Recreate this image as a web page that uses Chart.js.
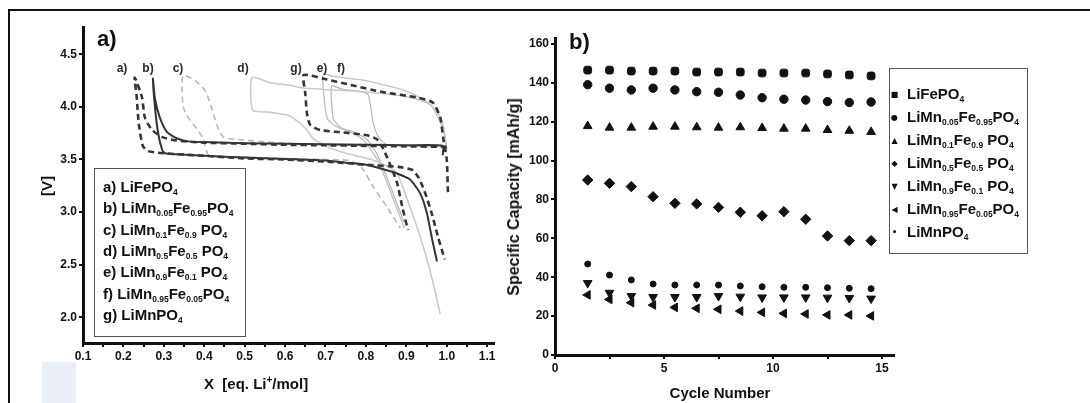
<!DOCTYPE html>
<html>
<head>
<meta charset="utf-8">
<script src="https://cdn.jsdelivr.net/npm/chart.js@4.4.0/dist/chart.umd.min.js"></script>
<style>
  html, body { margin: 0; padding: 0; background: #fff; width: 1090px; height: 403px; overflow: hidden; }
  body { position: relative; font-family: "Liberation Sans Narrow", "Liberation Sans", Arial, sans-serif; color: #111; }
  .frame { position: absolute; left: 8px; top: 9px; width: 1100px; height: 420px; border: 2px solid #111; }
  .patch { position: absolute; left: 42px; top: 362px; width: 34px; height: 41px; background: #e9eef7; }
  canvas { position: absolute; top: 0; }
  #chartA { left: 0; }
  #chartB { left: 495px; }
  .txt { position: absolute; white-space: nowrap; font-weight: bold; line-height: 1; }
  .rot { transform: translate(-50%, -50%) rotate(-90deg); }
  .ctr { transform: translate(-50%, -50%); }
  .legend { position: absolute; border: 1.5px solid #555; background: transparent; }
  .row { position: absolute; white-space: nowrap; font-weight: bold; font-size: 15px; line-height: 1; transform: translateY(-50%); }
  .row sub { font-size: 8.5px; vertical-align: -3px; line-height: 0; }
  .mk { display: inline-block; width: 9px; text-align: center; font-size: 8px; font-family: "DejaVu Sans", sans-serif; margin-right: 8px; vertical-align: 2px; }
</style>
</head>
<body>
<div class="frame"></div>
<div class="patch"></div>
<canvas id="chartA" width="545" height="403"></canvas>
<canvas id="chartB" width="595" height="403"></canvas>

<div class="txt" style="left:97px; top:28px; font-size:22px;">a)</div>
<div class="txt" style="left:569px; top:31px; font-size:22px;">b)</div>

<div class="txt rot" style="left:46px; top:186px; font-size:15px;">[V]</div>
<div class="txt" style="left:204px; top:376px; font-size:15px;">X&nbsp; [eq. Li<sup style="font-size:10px; vertical-align:6px; line-height:0;">+</sup>/mol]</div>
<div class="txt rot" style="left:514px; top:197px; font-size:16px;">Specific Capacity [mAh/g]</div>
<div class="txt ctr" style="left:720px; top:392px; font-size:15px;">Cycle Number</div>

<div id="curveLabels"></div>
<div class="legend" id="legendA" style="left:94px; top:168px; width:150px; height:167px;"></div>
<div class="legend" id="legendB" style="left:889px; top:68px; width:137px; height:184px;"></div>

<script>
// ---- panel a: charge / discharge curves, [x, V] ----
const curveA = [[1.0,3.62],[0.9,3.625],[0.8,3.63],[0.7,3.635],[0.6,3.64],[0.5,3.65],[0.4,3.66],[0.333,3.68],[0.298,3.71],[0.271,3.78],[0.253,3.90],[0.246,4.09],[0.228,4.28],[0.233,4.09],[0.238,3.84],[0.248,3.63],[0.261,3.58],[0.298,3.56],[0.4,3.535],[0.5,3.51],[0.6,3.50],[0.7,3.48],[0.8,3.45],[0.88,3.43],[0.915,3.40],[0.93,3.33],[0.945,3.20],[0.962,3.00],[0.978,2.77],[0.995,2.55]];
const curveB = [[0.99,3.54],[0.99,3.63],[0.9,3.635],[0.8,3.64],[0.7,3.645],[0.6,3.65],[0.5,3.655],[0.414,3.665],[0.365,3.67],[0.333,3.70],[0.308,3.76],[0.29,3.90],[0.278,4.08],[0.273,4.27],[0.278,4.00],[0.286,3.75],[0.296,3.59],[0.303,3.56],[0.33,3.55],[0.4,3.535],[0.5,3.52],[0.6,3.505],[0.7,3.49],[0.75,3.47],[0.8,3.45],[0.85,3.40],[0.875,3.37],[0.909,3.31],[0.934,3.18],[0.951,2.99],[0.964,2.74],[0.976,2.53]];
const curveC = [[0.82,3.63],[0.7,3.64],[0.6,3.655],[0.483,3.69],[0.448,3.71],[0.433,3.81],[0.42,3.97],[0.403,4.15],[0.378,4.25],[0.348,4.30],[0.345,4.16],[0.348,4.00],[0.36,3.90],[0.378,3.81],[0.396,3.71],[0.403,3.62],[0.411,3.54],[0.5,3.52],[0.6,3.51],[0.7,3.50],[0.76,3.49],[0.79,3.42],[0.818,3.24],[0.852,3.05],[0.885,2.85]];
const curveD = [[1.0,3.58],[0.995,3.75],[0.985,3.90],[0.96,4.02],[0.92,4.08],[0.86,4.12],[0.78,4.15],[0.711,4.16],[0.687,4.17],[0.645,4.18],[0.605,4.21],[0.563,4.23],[0.518,4.28],[0.52,3.97],[0.563,3.95],[0.607,3.92],[0.632,3.86],[0.654,3.78],[0.669,3.70],[0.686,3.66],[0.711,3.61],[0.76,3.55],[0.82,3.49],[0.86,3.42],[0.877,3.37],[0.909,3.05],[0.942,2.67],[0.966,2.33],[0.984,2.03]];
const curveE = [[1.0,3.60],[0.99,3.80],[0.96,4.02],[0.9,4.15],[0.8,4.25],[0.72,4.29],[0.694,4.31],[0.699,4.00],[0.706,3.88],[0.729,3.81],[0.761,3.76],[0.793,3.69],[0.818,3.56],[0.835,3.45],[0.86,3.20],[0.88,3.00],[0.895,2.85]];
const curveF = [[0.98,3.62],[0.9,3.63],[0.852,3.64],[0.83,3.72],[0.818,3.85],[0.812,4.00],[0.805,4.12],[0.78,4.15],[0.74,4.17],[0.715,4.20],[0.716,4.00],[0.72,3.88],[0.74,3.80],[0.77,3.76],[0.80,3.70],[0.82,3.60],[0.84,3.45],[0.86,3.25],[0.88,3.05],[0.895,2.90]];
const curveG = [[1.003,3.19],[1.0,3.50],[0.991,3.71],[0.984,3.90],[0.966,4.04],[0.927,4.09],[0.843,4.14],[0.761,4.21],[0.694,4.27],[0.662,4.30],[0.645,4.30],[0.65,4.13],[0.654,3.94],[0.662,3.83],[0.687,3.78],[0.736,3.76],[0.803,3.73],[0.828,3.69],[0.843,3.60],[0.858,3.47],[0.877,3.28],[0.890,3.05],[0.904,2.83]];

const xTicksA = [0.1,0.15,0.2,0.25,0.3,0.35,0.4,0.45,0.5,0.55,0.6,0.65,0.7,0.75,0.8,0.85,0.9,0.95,1.0,1.05,1.1];
const yTicksA = [2.0,2.5,3.0,3.5,4.0,4.5];

// curve tags drawn above the loops
const curveTags = ['a)','b)','c)','d)','g)','e)','f)'];
const curveTagX = [122,148,178,243,296,322,341];

// ---- panel b: specific capacity per cycle ----
const cycles = [1.5,2.5,3.5,4.5,5.5,6.5,7.5,8.5,9.5,10.5,11.5,12.5,13.5,14.5];
const capLiFePO4 = [146.5,146.5,146,146,146,145.5,145.5,145.5,145,145,145,144.5,144,143.5];
const capMn005 = [139,137.2,136.3,137.2,136.3,135.4,135.1,133.7,132.3,131.5,131.1,130.3,129.8,130.1];
const capMn01 = [117.7,116.9,116.9,117.4,117.4,117.1,116.9,117.1,116.7,116.4,116.4,115.7,115.3,114.7];
const capMn05 = [90,88.3,86.6,81.4,78,77.7,75.9,73.4,71.6,73.7,69.8,61.2,58.8,58.8];
const capMn09 = [37,32,30.3,29.8,29.8,29.8,30.3,30,29.6,29.6,29.6,29.5,29.3,29];
const capMn095 = [30.9,28.6,26.9,25.7,24.5,24,23.5,22.6,21.9,21.4,21.1,20.6,20.6,20.1];
const capLiMnPO4 = [46.8,41.1,38.6,36.5,36,36,36,35.5,35.1,34.8,34.8,34.6,34.3,34.1];

const xTicksB = [0,2.5,5,7.5,10,12.5,15];
const yTicksB = [0,20,40,60,80,100,120,140,160];

const seriesNames = [
  'LiFePO<sub>4</sub>',
  'LiMn<sub>0.05</sub>Fe<sub>0.95</sub>PO<sub>4</sub>',
  'LiMn<sub>0.1</sub>Fe<sub>0.9</sub> PO<sub>4</sub>',
  'LiMn<sub>0.5</sub>Fe<sub>0.5</sub> PO<sub>4</sub>',
  'LiMn<sub>0.9</sub>Fe<sub>0.1</sub> PO<sub>4</sub>',
  'LiMn<sub>0.95</sub>Fe<sub>0.05</sub>PO<sub>4</sub>',
  'LiMnPO<sub>4</sub>'
];
const legendKeys = ['a)','b)','c)','d)','e)','f)','g)'];
const legendGlyphs = ['\u25A0','\u25CF','\u25B2','\u25C6','\u25BC','\u25C0','\u2022'];

const FONT = '"Liberation Sans Narrow", "Liberation Sans", Arial, sans-serif';
const INK = '#111';

document.addEventListener('DOMContentLoaded', function() {
    buildLabels();
    drawCurves();
    drawCapacity();
});

function buildLabels() {
    const tags = document.getElementById('curveLabels');
    curveTags.forEach((t, i) => {
        const d = document.createElement('div');
        d.className = 'txt ctr';
        d.style.cssText = `left:${curveTagX[i]}px; top:68px; font-size:12px; color:#2a2a2a;`;
        d.textContent = t;
        tags.appendChild(d);
    });

    const la = document.getElementById('legendA');
    seriesNames.forEach((name, i) => {
        const r = document.createElement('div');
        r.className = 'row';
        r.style.left = '8px';
        r.style.top = (17 + i * 21.3) + 'px';
        r.innerHTML = legendKeys[i] + '&nbsp;' + name;
        la.appendChild(r);
    });

    const lb = document.getElementById('legendB');
    seriesNames.forEach((name, i) => {
        const r = document.createElement('div');
        r.className = 'row';
        r.style.left = '0px';
        r.style.top = (24 + i * 23) + 'px';
        r.innerHTML = `<span class="mk">${legendGlyphs[i]}</span>` + name;
        lb.appendChild(r);
    });
}

function axisStyle(extra) {
    return Object.assign({
        type: 'linear',
        grid: { drawOnChartArea: false, drawTicks: true, tickLength: 4, color: INK, lineWidth: 2 },
        border: { display: true, color: INK, width: 3 },
        ticks: { font: { family: FONT, size: 12, weight: 'bold' }, color: INK, padding: 2, maxRotation: 0, autoSkip: false }
    }, extra);
}

function drawCurves() {
    const dark = '#353535';
    const sets = [
        { data: curveA, borderColor: dark, borderWidth: 2.6, borderDash: [6, 4], order: 0 },
        { data: curveB, borderColor: dark, borderWidth: 2, order: 0 },
        { data: curveC, borderColor: '#b9b9b9', borderWidth: 1.6, borderDash: [6, 4], order: 1 },
        { data: curveD, borderColor: '#c9c9c9', borderWidth: 1.5, order: 1 },
        { data: curveE, borderColor: '#c2c2c2', borderWidth: 1.4, order: 1 },
        { data: curveF, borderColor: '#b5b5b5', borderWidth: 1.2, order: 1 },
        { data: curveG, borderColor: dark, borderWidth: 2.6, borderDash: [6, 4], order: 0 }
    ].map(s => Object.assign({
        showLine: true, pointRadius: 0, tension: 0.2, fill: false
    }, s, { data: s.data.map(p => ({ x: p[0], y: p[1] })) }));

    new Chart(document.getElementById('chartA'), {
        type: 'scatter',
        data: { datasets: sets },
        options: {
            responsive: false,
            animation: false,
            devicePixelRatio: 1,
            layout: { padding: { left: 33, right: 51, top: 27, bottom: 30 } },
            plugins: { legend: { display: false }, tooltip: { enabled: false } },
            scales: {
                x: axisStyle({
                    min: 0.1, max: 1.117,
                    afterBuildTicks: s => { s.ticks = xTicksA.map(v => ({ value: v })); },
                    afterFit: s => { s.height = 30; },
                    ticks: Object.assign(axisStyle().ticks, {
                        callback: (v, i) => (i % 2 === 0 ? Number(v).toFixed(1) : '')
                    })
                }),
                y: axisStyle({
                    min: 1.755, max: 4.76,
                    afterBuildTicks: s => { s.ticks = yTicksA.map(v => ({ value: v })); },
                    afterFit: s => { s.width = 50; },
                    ticks: Object.assign(axisStyle().ticks, { callback: v => Number(v).toFixed(1) })
                })
            }
        }
    });
}

function drawCapacity() {
    const series = [capLiFePO4, capMn005, capMn01, capMn05, capMn09, capMn095, capLiMnPO4];
    const styles = [
        { pointStyle: 'rectRounded', pointRadius: 4.5, pointRotation: 0 },
        { pointStyle: 'circle', pointRadius: 4.2, pointRotation: 0 },
        { pointStyle: 'triangle', pointRadius: 5, pointRotation: 0 },
        { pointStyle: 'rectRot', pointRadius: 5.2, pointRotation: 0 },
        { pointStyle: 'triangle', pointRadius: 5, pointRotation: 180 },
        { pointStyle: 'triangle', pointRadius: 5, pointRotation: -90 },
        { pointStyle: 'circle', pointRadius: 3, pointRotation: 0 }
    ];
    const sets = series.map((vals, i) => Object.assign({
        data: cycles.map((c, j) => ({ x: c, y: vals[j] })),
        showLine: false,
        backgroundColor: INK,
        borderColor: INK,
        borderWidth: 1
    }, styles[i]));

    new Chart(document.getElementById('chartB'), {
        type: 'scatter',
        data: { datasets: sets },
        options: {
            responsive: false,
            animation: false,
            devicePixelRatio: 1,
            layout: { padding: { left: 10, right: 196, top: 38, bottom: 18 } },
            plugins: { legend: { display: false }, tooltip: { enabled: false } },
            scales: {
                x: axisStyle({
                    min: 0, max: 15.55,
                    afterBuildTicks: s => { s.ticks = xTicksB.map(v => ({ value: v })); },
                    afterFit: s => { s.height = 30; },
                    ticks: Object.assign(axisStyle().ticks, {
                        callback: v => (v % 5 === 0 ? String(v) : '')
                    })
                }),
                y: axisStyle({
                    min: 0, max: 163,
                    afterBuildTicks: s => { s.ticks = yTicksB.map(v => ({ value: v })); },
                    afterFit: s => { s.width = 50; },
                    ticks: Object.assign(axisStyle().ticks, { callback: v => String(v) })
                })
            }
        }
    });
}
</script>
</body>
</html>
